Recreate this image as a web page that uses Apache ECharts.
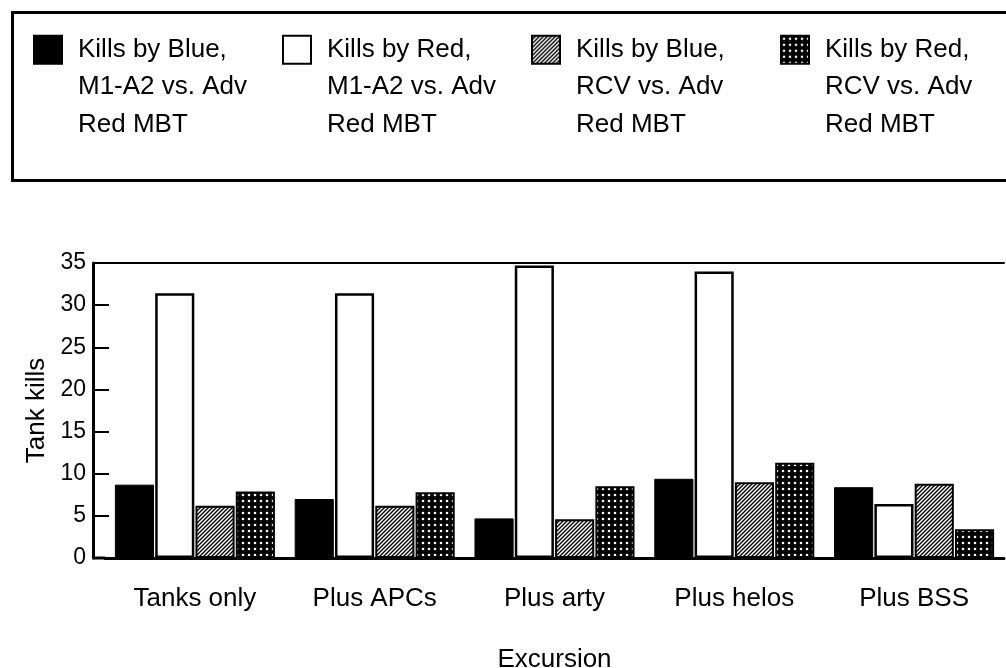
<!DOCTYPE html>
<html>
<head>
<meta charset="utf-8">
<script src="https://cdn.jsdelivr.net/npm/echarts@6/dist/echarts.min.js"></script>
<style>
  html, body { margin: 0; padding: 0; background: #fff; }
  #chart { width: 1006px; height: 668px; }
</style>
</head>
<body>
<div id="chart"></div>
<script>
  // data
  var categories = ['Tanks only', 'Plus APCs', 'Plus arty', 'Plus helos', 'Plus BSS'];
  var blueM1 = [8.7, 7.0, 4.7, 9.4, 8.4];
  var redM1 = [31.4, 31.4, 34.7, 34.0, 6.4];
  var blueRcv = [6.2, 6.2, 4.6, 9.0, 8.8];
  var redRcv = [7.9, 7.8, 8.5, 11.3, 3.4];
  var seriesNames = [
    'Kills by Blue,\nM1-A2 vs. Adv\nRed MBT',
    'Kills by Red,\nM1-A2 vs. Adv\nRed MBT',
    'Kills by Blue,\nRCV vs. Adv\nRed MBT',
    'Kills by Red,\nRCV vs. Adv\nRed MBT'
  ];

  var FONT = '"Liberation Sans", Arial, Helvetica, sans-serif';

  // diagonal hatch fill
  function hatchPattern() {
    var c = document.createElement('canvas');
    c.width = 4; c.height = 4;
    var ctx = c.getContext('2d');
    ctx.fillStyle = '#fff';
    ctx.fillRect(0, 0, 4, 4);
    ctx.strokeStyle = '#000';
    ctx.lineWidth = 1.4;
    ctx.beginPath();
    ctx.moveTo(-1, 5); ctx.lineTo(5, -1);
    ctx.moveTo(-1, 1); ctx.lineTo(1, -1);
    ctx.moveTo(3, 5); ctx.lineTo(5, 3);
    ctx.stroke();
    return { image: c, repeat: 'repeat' };
  }

  // black fill with white dots
  function dotPattern() {
    var c = document.createElement('canvas');
    c.width = 6; c.height = 6;
    var ctx = c.getContext('2d');
    ctx.fillStyle = '#000';
    ctx.fillRect(0, 0, 6, 6);
    ctx.fillStyle = '#fff';
    ctx.beginPath();
    ctx.arc(3, 3, 1.3, 0, Math.PI * 2);
    ctx.fill();
    return { image: c, repeat: 'repeat' };
  }

  function barSeries(name, data, color, borderWidth) {
    return {
      name: name,
      type: 'bar',
      data: data,
      barCategoryGap: '11%',
      barGap: '3%',
      itemStyle: {
        color: color,
        borderColor: '#000',
        borderWidth: borderWidth
      },
      emphasis: { disabled: true }
    };
  }

  var chart = echarts.init(document.getElementById('chart'));

  chart.setOption({
    animation: false,
    backgroundColor: '#fff',
    textStyle: { fontFamily: FONT, color: '#000' },
    graphic: [{
      type: 'rect',
      left: 10,
      top: 10,
      shape: { width: 1010, height: 168 },
      style: { fill: 'none', stroke: '#000', lineWidth: 3 }
    }],
    legend: {
      left: 33,
      top: -44,
      width: 1200,
      padding: 0,
      itemGap: 0,
      itemWidth: 28,
      itemHeight: 28,
      icon: 'rect',
      selectedMode: false,
      data: seriesNames,
      // two blank lines on top so the first real line sits beside the icon
      formatter: function (name) { return '\n\n' + name; },
      textStyle: {
        fontFamily: FONT,
        fontSize: 26,
        color: '#000',
        lineHeight: 37.5,
        width: 204,
        padding: [0, 0, 0, 11]
      }
    },
    grid: {
      left: 105,
      right: 2,
      top: 263,
      bottom: 110,
      outerBoundsMode: 'none'
    },
    xAxis: [{
      type: 'category',
      data: categories,
      name: 'Excursion',
      nameLocation: 'middle',
      nameGap: 89,
      nameTextStyle: { fontSize: 26, color: '#000', fontFamily: FONT },
      axisLine: {
        lineStyle: { color: '#000', width: 3 },
        symbol: ['rect', 'none'],
        symbolSize: [3, 13],
        symbolOffset: [-6, 0]
      },
      axisTick: { show: false },
      axisLabel: { fontSize: 26, color: '#000', margin: 28, fontFamily: FONT }
    }, {
      type: 'category',
      position: 'top',
      data: categories,
      axisLine: { lineStyle: { color: '#000', width: 2 } },
      axisTick: { show: false },
      axisLabel: { show: false }
    }],
    yAxis: {
      type: 'value',
      min: 0,
      max: 35,
      interval: 5,
      offset: 12,
      name: 'Tank kills',
      nameLocation: 'middle',
      nameGap: 43,
      nameTextStyle: { fontSize: 26, color: '#000', fontFamily: FONT },
      axisLine: { show: true, lineStyle: { color: '#000', width: 3 } },
      axisTick: { show: true, inside: true, length: 16, lineStyle: { color: '#000', width: 2 } },
      axisLabel: { fontSize: 23, color: '#000', margin: 7, fontFamily: FONT },
      splitLine: { show: false }
    },
    series: [
      barSeries(seriesNames[0], blueM1, '#000', 1),
      barSeries(seriesNames[1], redM1, '#fff', 2.5),
      barSeries(seriesNames[2], blueRcv, hatchPattern(), 2),
      barSeries(seriesNames[3], redRcv, dotPattern(), 2)
    ]
  });
</script>
</body>
</html>
